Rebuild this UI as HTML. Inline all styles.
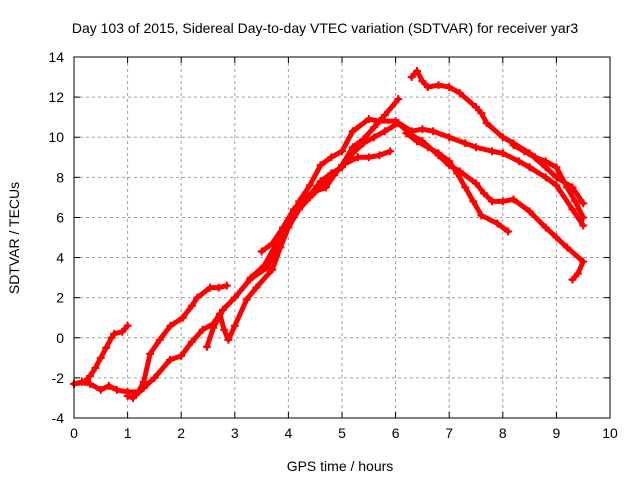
<!DOCTYPE html>
<html><head><meta charset="utf-8"><style>body{margin:0;background:#fff}svg{display:block;font-family:"Liberation Sans",sans-serif}</style></head>
<body>
<svg id="chart" width="640" height="480" viewBox="0 0 640 480">
<text x="325" y="33" font-size="14" text-anchor="middle">Day 103 of 2015, Sidereal Day-to-day VTEC variation (SDTVAR) for receiver yar3</text>
<text x="340" y="471" font-size="14" text-anchor="middle">GPS time / hours</text>
<text transform="translate(19,238) rotate(-90)" font-size="14" text-anchor="middle">SDTVAR / TECUs</text>
<g id="grid"></g>
<g id="ticks"></g>
<g id="series"></g>
<rect x="74" y="57" width="536" height="361" fill="none" stroke="#000" stroke-width="1"/>
</svg>
<script>
const xTicks=[0,1,2,3,4,5,6,7,8,9,10];
const yTicks=[-4,-2,0,2,4,6,8,10,12,14];
const track1=[[0,-2.3],[0.2,-2.2],[0.3,-1.9],[0.4,-1.5],[0.5,-1.0],[0.6,-0.5],[0.7,0.0],[0.75,0.2],[0.9,0.3],[1.0,0.6]];
const track2=[[0,-2.3],[0.15,-2.2],[0.3,-2.3],[0.5,-2.6],[0.65,-2.4],[0.8,-2.6],[1.0,-2.7],[1.2,-2.7],[1.3,-2.2],[1.42,-0.8],[1.6,-0.1],[1.8,0.6],[2.03,1.0],[2.2,1.6],[2.3,2.0],[2.54,2.5],[2.7,2.5],[2.85,2.6]];
const track3=[[1.0,-2.9],[1.1,-3.0],[1.3,-2.5],[1.5,-2.0],[1.79,-1.1],[2.0,-0.9],[2.2,-0.2],[2.4,0.4],[2.6,0.7],[2.72,1.2],[2.8,0.4],[2.88,-0.1],[3.0,0.6],[3.22,1.9],[3.4,2.5],[3.7,3.4],[3.85,4.5],[4.0,5.5],[4.2,6.4],[4.4,7],[4.8,8],[5.0,8.6],[5.2,9.5],[5.4,9.9],[5.6,10.5],[5.8,11.1],[6.05,11.9]];
const track4=[[2.48,-0.45],[2.6,0.5],[2.78,1.4],[3.0,2.0],[3.28,2.9],[3.6,3.5],[3.75,4.3],[3.9,5.2],[4.2,6.8],[4.4,7.6],[4.6,8.6],[4.8,9.0],[5,9.3],[5.2,10.3],[5.5,10.9],[5.7,10.8],[6.0,10.8],[6.3,10.3],[6.5,10.4],[6.7,10.3],[7,10],[7.3,9.7],[7.5,9.5],[7.8,9.3],[8,9.2],[8.3,8.8],[8.5,8.5],[8.8,8.0],[9,7.6],[9.3,6.4],[9.5,5.6]];
const track5=[[3.5,4.3],[3.7,4.7],[3.9,5.5],[4.1,6.4],[4.3,7],[4.5,7.3],[4.7,7.5],[4.85,8.1],[5.0,8.6],[5.3,9.0],[5.5,9.0],[5.7,9.1],[5.9,9.3]];
const track6=[[3.3,3],[3.55,3.6],[3.8,4.8],[4.0,5.8],[4.2,6.5],[4.4,7.1],[4.6,7.8],[4.8,8.2],[5,8.5],[5.2,9.2],[5.4,9.7],[5.6,10.0],[5.8,10.3],[6.05,10.7],[6.3,10.1],[6.5,9.8],[6.8,9.1],[7,8.6],[7.2,8.3],[7.5,7.7],[7.65,7.2],[7.8,6.8],[8.0,6.8],[8.2,6.9],[8.5,6.3],[8.8,5.5],[9,5],[9.2,4.5],[9.5,3.8],[9.4,3.2],[9.3,2.9]];
const track7=[[6.3,13],[6.4,13.3],[6.5,12.8],[6.6,12.5],[6.8,12.6],[7,12.5],[7.2,12.2],[7.5,11.5],[7.6,11.2],[7.7,10.7],[8,10],[8.2,9.7],[8.5,9.2],[8.8,8.5],[9,8],[9.3,7.5],[9.5,6.7]];
const track8=[[6.2,10.2],[6.4,9.8],[6.6,9.5],[6.8,9.2],[7,8.8],[7.15,8.2],[7.3,7.5],[7.45,6.8],[7.6,6.1],[7.9,5.7],[8.1,5.3]];
const track9=[[8.2,9.6],[8.4,9.3],[8.6,9],[8.8,8.8],[9,8.5],[9.2,7.5],[9.35,6.8],[9.5,6]];
const tracks=[track1,track2,track3,track4,track5,track6,track7,track8,track9];
const X0=74,X1=610,Y0=418,Y1=57;
const sx=h=>X0+(h-0)/(10-0)*(X1-X0);
const sy=v=>Y0-(v+4)/18*(Y0-Y1);
const NS='http://www.w3.org/2000/svg';
const grid=document.getElementById('grid'),ticks=document.getElementById('ticks'),ser=document.getElementById('series');
function mk(tag,attrs,parent){const e=document.createElementNS(NS,tag);for(const k in attrs)e.setAttribute(k,attrs[k]);parent.appendChild(e);return e;}
xTicks.forEach(t=>{const x=sx(t);
 if(t>0&&t<10){const g=mk('line',{x1:x,x2:x,y1:Y1,y2:Y0,stroke:'#a0a0a0','stroke-dasharray':'3,3'},grid);
 
 }
 mk('line',{x1:x,x2:x,y1:Y0,y2:Y0-6,stroke:'#000'},ticks);mk('line',{x1:x,x2:x,y1:Y1,y2:Y1+6,stroke:'#000'},ticks);
 const l=mk('text',{x:x,y:Y0+20,'font-size':14,'text-anchor':'middle'},ticks);l.textContent=t;
 
 });
yTicks.forEach(t=>{const y=sy(t);
 if(t>-4&&t<14){const g=mk('line',{x1:X0,x2:X1,y1:y,y2:y,stroke:'#a0a0a0','stroke-dasharray':'3,3'},grid);
 
 }
 mk('line',{x1:X0,x2:X0+6,y1:y,y2:y,stroke:'#000'},ticks);mk('line',{x1:X1,x2:X1-6,y1:y,y2:y,stroke:'#000'},ticks);
 const l=mk('text',{x:X0-10,y:y+5,'font-size':14,'text-anchor':'end'},ticks);l.textContent=t;
 
 });
tracks.forEach((tr,i)=>{
 const p=mk('polyline',{points:tr.map(d=>sx(d[0])+','+sy(d[1])).join(' '),fill:'none',stroke:'#ff0000','stroke-width':5,'stroke-linejoin':'round','stroke-linecap':'round'},ser);
 
 
 tr.forEach(d=>{const x=sx(d[0]),y=sy(d[1]);
  const m=mk('path',{d:`M${x-4},${y}H${x+4}M${x},${y-4}V${y+4}`,stroke:'#ff0000','stroke-width':2},ser);
  
  });
});
</script>
</body></html>
